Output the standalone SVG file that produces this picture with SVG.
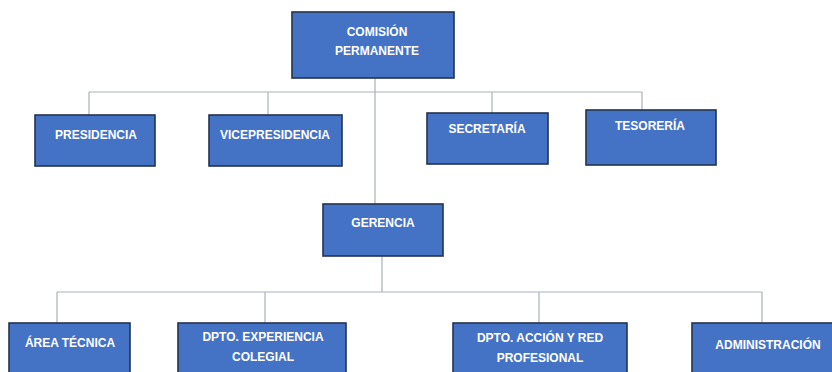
<svg xmlns="http://www.w3.org/2000/svg" width="832" height="372" viewBox="0 0 832 372">
<style>
.box{fill:#4472C4;stroke:#22324F;stroke-width:1.6}
.t{font-family:"Liberation Sans",Arial,sans-serif;font-weight:bold;font-size:12px;fill:#FFFFFF;text-anchor:middle}
.c{fill:none;stroke:#A9B1B9;stroke-width:1.2}
</style>
<rect width="832" height="372" fill="#FFFFFF"/>
<g id="connectors">
<path class="c" d="M375 78V204M89 92H642M89 92V115M268 92V115M492 92V113M642 92V110"/>
<path class="c" d="M382 256V292M57 292H762M57 292V323M265 292V323M539 292V323M762 292V323"/>
</g>
<g id="comision"><rect class="box" x="292" y="12" width="162" height="66"/><text class="t" x="377" y="36">COMISIÓN</text><text class="t" x="377" y="55">PERMANENTE</text></g>
<g id="presidencia"><rect class="box" x="35" y="115" width="120" height="51"/><text class="t" x="96" y="139">PRESIDENCIA</text></g>
<g id="vicepresidencia"><rect class="box" x="209" y="115" width="133" height="51"/><text class="t" x="275" y="139">VICEPRESIDENCIA</text></g>
<g id="secretaria"><rect class="box" x="427" y="113" width="121" height="51"/><text class="t" x="487" y="133">SECRETARÍA</text></g>
<g id="tesoreria"><rect class="box" x="586" y="110" width="130" height="55"/><text class="t" x="650" y="130">TESORERÍA</text></g>
<g id="gerencia"><rect class="box" x="323" y="204" width="120" height="52"/><text class="t" x="383" y="227">GERENCIA</text></g>
<g id="area-tecnica"><rect class="box" x="9" y="323" width="121" height="60"/><text class="t" x="70" y="347">ÁREA TÉCNICA</text></g>
<g id="dpto-experiencia"><rect class="box" x="178" y="323" width="168" height="60"/><text class="t" x="263" y="341">DPTO. EXPERIENCIA</text><text class="t" x="263" y="361">COLEGIAL</text></g>
<g id="dpto-accion"><rect class="box" x="453" y="323" width="174" height="60"/><text class="t" x="540" y="342">DPTO. ACCIÓN Y RED</text><text class="t" x="540" y="362">PROFESIONAL</text></g>
<g id="administracion"><rect class="box" x="692" y="323" width="150" height="60"/><text class="t" x="768" y="349">ADMINISTRACIÓN</text></g>
</svg>
